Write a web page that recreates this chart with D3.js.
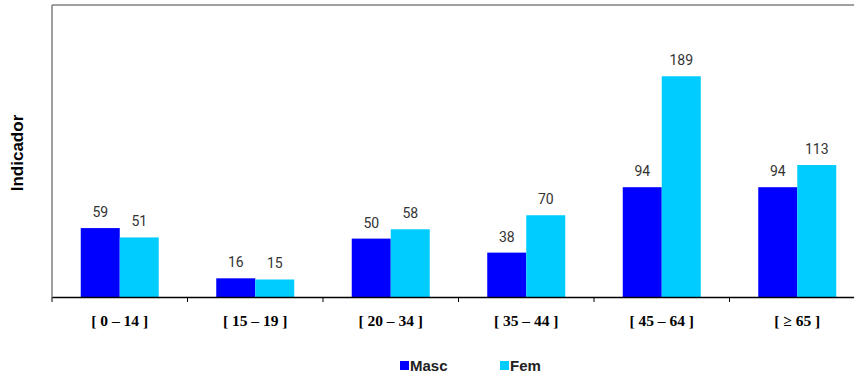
<!DOCTYPE html>
<html>
<head>
<meta charset="utf-8">
<script src="https://cdn.jsdelivr.net/npm/d3@7"></script>
<style>
  body { margin: 0; background: #fff; }
  svg { display: block; }
</style>
</head>
<body>
<svg id="chart" width="854" height="376"></svg>
<script>
// data
const categories = ['[ 0 – 14 ]', '[ 15 – 19 ]', '[ 20 – 34 ]', '[ 35 – 44 ]', '[ 45 – 64 ]', '[ ≥ 65 ]'];
const seriesNames = ['Masc', 'Fem'];
const masc = [59, 16, 50, 38, 94, 94];
const fem = [51, 15, 58, 70, 189, 113];
const colors = ['#0000ff', '#00ccff'];

const svg = d3.select('#chart');
const plotLeft = 52, plotRight = 865, plotTop = 5, plotBottom = 297;

let x = d3.scaleBand().domain(categories).range([plotLeft, plotRight]).padding(0);
let y = d3.scaleLinear().domain([0, 250]).range([plotBottom, plotTop]);
let groupW = 78;
let xs = d3.scaleBand().domain(seriesNames).range([0, groupW]);

// frame (top and left, gray)
svg.append('line').attr('x1', plotLeft).attr('x2', 854).attr('y1', plotTop).attr('y2', plotTop)
    .attr('stroke', '#808080').attr('stroke-width', 1.5);
svg.append('line').attr('x1', plotLeft).attr('x2', plotLeft).attr('y1', plotTop).attr('y2', plotBottom)
    .attr('stroke', '#808080').attr('stroke-width', 1.5);

let rows = categories.map((c, i) => ({cat: c, vals: [masc[i], fem[i]]}));

let groups = svg.append('g').selectAll('g').data(rows).enter().append('g')
    .attr('transform', d => `translate(${x(d.cat) + (x.bandwidth() - groupW) / 2},0)`);

groups.selectAll('rect').data(d => d.vals.map((v, i) => ({name: seriesNames[i], v: v, i: i})))
    .enter().append('rect')
    .attr('x', d => xs(d.name))
    .attr('y', d => y(d.v))
    .attr('width', xs.bandwidth())
    .attr('height', d => plotBottom - y(d.v))
    .attr('fill', d => colors[d.i]);

groups.selectAll('text').data(d => d.vals.map((v, i) => ({name: seriesNames[i], v: v})))
    .enter().append('text')
    .attr('x', d => xs(d.name) + xs.bandwidth() / 2)
    .attr('y', d => y(d.v) - 11)
    .attr('text-anchor', 'middle')
    .style('font-family', 'Roboto')
    .style('font-size', '14px')
    .attr('fill', '#333')
    .text(d => d.v);

// x axis
let xaxis = d3.axisBottom(x).tickSize(0).tickFormat('');
svg.append('g').attr('transform', `translate(0,${plotBottom})`).call(xaxis)
    .select('.domain').attr('stroke', '#000').attr('stroke-width', 1.5);
// tick marks at band boundaries
svg.append('g').selectAll('line').data(categories).enter().append('line')
    .attr('x1', d => x(d)).attr('x2', d => x(d))
    .attr('y1', plotBottom).attr('y2', plotBottom + 5)
    .attr('stroke', '#000');

svg.append('g').selectAll('text').data(categories).enter().append('text')
    .attr('x', d => x(d) + x.bandwidth() / 2)
    .attr('y', 326)
    .attr('text-anchor', 'middle')
    .style('font-family', 'Liberation Serif')
    .style('font-weight', 'bold')
    .style('font-size', '15.5px')
    .attr('fill', '#000')
    .text(d => d);

// y axis title
svg.append('text')
    .attr('transform', 'translate(23,153) rotate(-90)')
    .attr('text-anchor', 'middle')
    .style('font-family', 'Liberation Sans')
    .style('font-weight', 'bold')
    .style('font-size', '17px')
    .text('Indicador');

// legend
let legendX = [400, 500];
let legend = svg.append('g').selectAll('g').data(seriesNames).enter().append('g')
    .attr('transform', (d, i) => `translate(${legendX[i]},361)`);
legend.append('rect').attr('width', 9).attr('height', 9).attr('fill', (d, i) => colors[i]);
legend.append('text').attr('x', 10).attr('y', 9.5)
    .style('font-family', 'Liberation Sans')
    .style('font-weight', 'bold')
    .style('font-size', '15px')
    .attr('fill', '#222')
    .text(d => d);
</script>
</body>
</html>
